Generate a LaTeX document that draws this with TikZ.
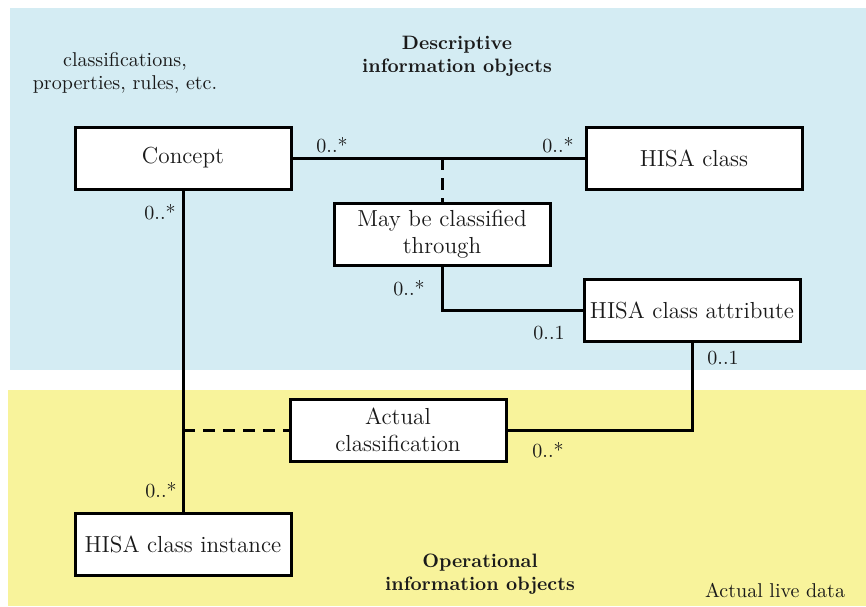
\documentclass[tikz,border=0pt]{standalone}
\usepackage{tikz}
\usetikzlibrary{positioning,calc}
\definecolor{descbg}{HTML}{D4ECF3}
\definecolor{operbg}{HTML}{F8F39B}
\definecolor{ink}{HTML}{1A1A1A}
\tikzset{
  classbox/.style={draw=black,fill=white,line width=1.5pt,
                   minimum width=108pt,minimum height=31pt,
                   align=center,font=\fontsize{11.6}{13.6}\selectfont,inner sep=2pt,text=ink},
  link/.style={line width=1.5pt},
  dashlink/.style={line width=1.5pt,dash pattern=on 6pt off 4pt},
  mult/.style={font=\fontsize{10}{12}\selectfont,text=ink,inner sep=1pt},
  heading/.style={font=\bfseries\fontsize{9.7}{11.5}\selectfont,align=center,text=ink},
  remark/.style={font=\fontsize{10}{11.5}\selectfont,align=center,text=ink}
}
\begin{document}
\begin{tikzpicture}[x=0.5pt,y=-0.5pt]
  \useasboundingbox (0,0) rectangle (866,606);
  % the two layers
  \fill[descbg] (10,8) rectangle (866,370);
  \fill[operbg] (8,390) rectangle (866,606);

  \node[classbox] (concept) at (183,158) {Concept};
  \node[classbox] (hclass) at (694,158) {HISA class};
  \node[classbox] (mayclass) at (442,234) {May be classified\\through};
  \node[classbox] (hattr) at (692,310) {HISA class attribute};
  \node[classbox] (actual) at (398,430) {Actual\\classification};
  \node[classbox] (hinst) at (183,544) {HISA class instance};

  \coordinate (assoc) at (mayclass.north |- concept.east);
  \coordinate (instlink) at (concept.south |- actual.west);

  \draw[link] (concept.east) -- (hclass.west);
  \draw[dashlink] (assoc) -- (mayclass.north);
  \draw[link] (mayclass.south) |- (hattr.west);
  \draw[link] (hattr.south) |- (actual.east);
  \draw[link] (concept.south) -- (hinst.north);
  \draw[dashlink] (instlink) -- (actual.west);

  \node[mult] (mconcept) at (332,145) {0..*};
  \node[mult] (mhclass) at (558,145) {0..*};
  \node[mult] (mconceptdown) at (160,212) {0..*};
  \node[mult] (mmay) at (409,288) {0..*};
  \node[mult] (mattrleft) at (549,333) {0..1};
  \node[mult] (mattrdown) at (723,358) {0..1};
  \node[mult] (mactual) at (548,450) {0..*};
  \node[mult] (minst) at (161,490) {0..*};

  \node[remark] (examples) at (125,73) {classifications,\\properties, rules, etc.};
  \node[heading] (desc) at (457,56) {Descriptive\\information objects};
  \node[heading] (oper) at (480,574) {Operational\\information objects};
  \node[remark] (live) at (775,590) {Actual live data};
\end{tikzpicture}
\end{document}
